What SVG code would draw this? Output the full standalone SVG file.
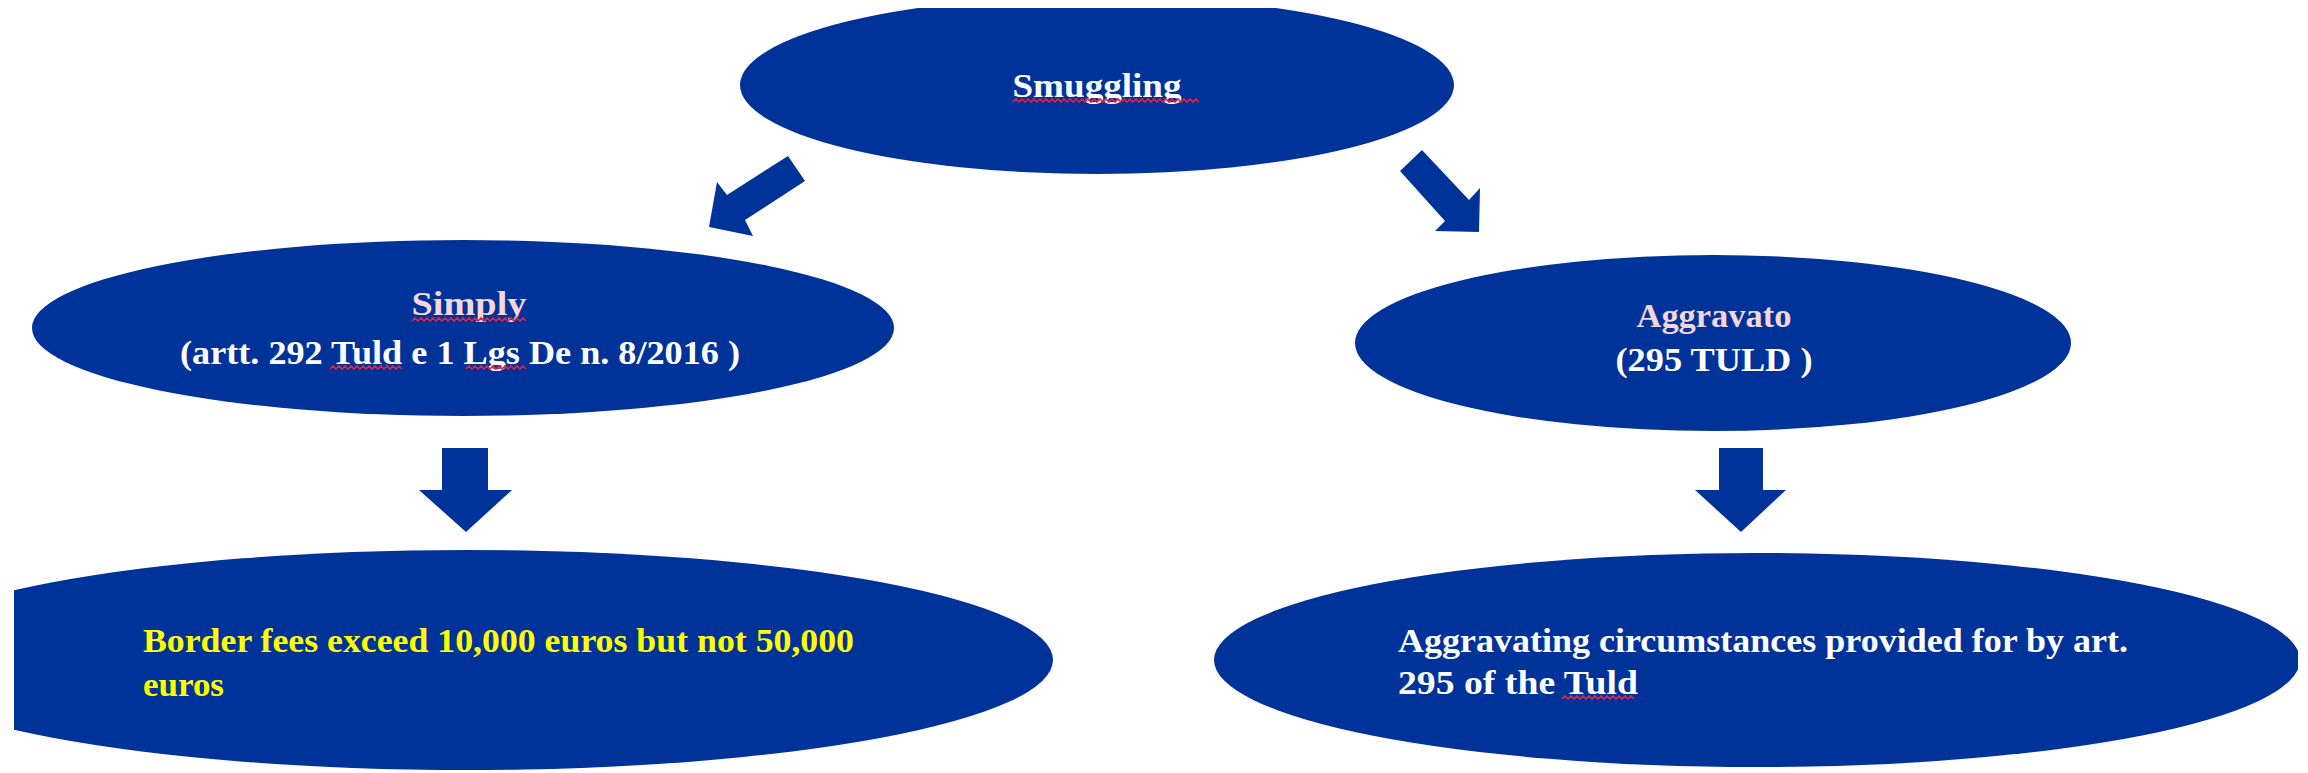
<svg xmlns="http://www.w3.org/2000/svg" width="2308" height="773" viewBox="0 0 2308 773">
  <style>
    .node { fill: #003399; }
    .arrow { fill: #003399; }
    .t { font-family: "Liberation Serif", "DejaVu Serif", serif; font-weight: bold; font-size: 34px; }
    .w { fill: #ffffff; }
    .p { fill: #f4d6dc; }
    .y { fill: #ffff00; }
    .sq { fill: none; stroke: #e8203c; stroke-width: 1.6; }
  </style>
  <defs>
    <clipPath id="clipTop"><rect x="0" y="8" width="2308" height="765"/></clipPath>
    <clipPath id="clipBL"><rect x="14" y="0" width="2294" height="773"/></clipPath>
    <clipPath id="clipBR"><rect x="0" y="0" width="2298" height="773"/></clipPath>
  </defs>
  <rect x="0" y="0" width="2308" height="773" fill="#ffffff"/>

  <g id="node-smuggling">
    <ellipse class="node" cx="1097" cy="85" rx="357" ry="89" clip-path="url(#clipTop)"/>
    <text class="t w" x="1097" y="97" text-anchor="middle" textLength="169" lengthAdjust="spacingAndGlyphs">Smuggling</text>
    <path class="sq" d="M1013 102 l3 -3 l3 3 l3 -3 l3 3 l3 -3 l3 3 l3 -3 l3 3 l3 -3 l3 3 l3 -3 l3 3 l3 -3 l3 3 l3 -3 l3 3 l3 -3 l3 3 l3 -3 l3 3 l3 -3 l3 3 l3 -3 l3 3 l3 -3 l3 3 l3 -3 l3 3 l3 -3 l3 3 l3 -3 l3 3 l3 -3 l3 3 l3 -3 l3 3 l3 -3 l3 3 l3 -3 l3 3 l3 -3 l3 3 l3 -3 l3 3 l3 -3 l3 3 l3 -3 l3 3 l3 -3 l3 3 l3 -3 l3 3 l3 -3 l3 3 l3 -3 l3 3 l3 -3 l3 3 l3 -3 l3 3 l3 -3 l3 3"/>
  </g>

  <g id="node-simply">
    <ellipse class="node" cx="463" cy="328" rx="431" ry="88"/>
    <text class="t p" x="469" y="315" text-anchor="middle" textLength="115" lengthAdjust="spacingAndGlyphs">Simply</text>
    <path class="sq" d="M412 321 l3 -3 l3 3 l3 -3 l3 3 l3 -3 l3 3 l3 -3 l3 3 l3 -3 l3 3 l3 -3 l3 3 l3 -3 l3 3 l3 -3 l3 3 l3 -3 l3 3 l3 -3 l3 3 l3 -3 l3 3 l3 -3 l3 3 l3 -3 l3 3 l3 -3 l3 3 l3 -3 l3 3 l3 -3 l3 3 l3 -3 l3 3 l3 -3 l3 3 l3 -3 l3 3"/>
    <text class="t w" x="180" y="364" textLength="560" lengthAdjust="spacingAndGlyphs">(artt. 292 Tuld e 1 Lgs De n. 8/2016 )</text>
    <path class="sq" d="M330 369 l3 -3 l3 3 l3 -3 l3 3 l3 -3 l3 3 l3 -3 l3 3 l3 -3 l3 3 l3 -3 l3 3 l3 -3 l3 3 l3 -3 l3 3 l3 -3 l3 3 l3 -3 l3 3 l3 -3 l3 3 l3 -3 l3 3"/>
    <path class="sq" d="M466 369 l3 -3 l3 3 l3 -3 l3 3 l3 -3 l3 3 l3 -3 l3 3 l3 -3 l3 3 l3 -3 l3 3 l3 -3 l3 3 l3 -3 l3 3 l3 -3 l3 3 l3 -3 l3 3"/>
  </g>

  <g id="node-aggravato">
    <ellipse class="node" cx="1713" cy="343" rx="358" ry="88"/>
    <text class="t p" x="1714" y="327" text-anchor="middle" textLength="155" lengthAdjust="spacingAndGlyphs">Aggravato</text>
    <text class="t w" x="1714" y="371" text-anchor="middle" textLength="197" lengthAdjust="spacingAndGlyphs">(295 TULD )</text>
  </g>

  <g id="node-border-fees">
    <ellipse class="node" cx="467" cy="660" rx="586" ry="110" clip-path="url(#clipBL)"/>
    <text class="t y" x="143" y="652" textLength="711" lengthAdjust="spacingAndGlyphs">Border fees exceed 10,000 euros but not 50,000</text>
    <text class="t y" x="143" y="696" textLength="81" lengthAdjust="spacingAndGlyphs">euros</text>
  </g>

  <g id="node-aggravating">
    <ellipse class="node" cx="1757" cy="660" rx="543" ry="107" clip-path="url(#clipBR)"/>
    <text class="t w" x="1398" y="652" textLength="730" lengthAdjust="spacingAndGlyphs">Aggravating circumstances provided for by art.</text>
    <text class="t w" x="1398" y="694" textLength="240" lengthAdjust="spacingAndGlyphs">295 of the Tuld</text>
    <path class="sq" d="M1562 699 l3 -3 l3 3 l3 -3 l3 3 l3 -3 l3 3 l3 -3 l3 3 l3 -3 l3 3 l3 -3 l3 3 l3 -3 l3 3 l3 -3 l3 3 l3 -3 l3 3 l3 -3 l3 3 l3 -3 l3 3 l3 -3 l3 3"/>
  </g>

  <g id="connectors">
    <polygon class="arrow" points="788,156 805,181 745,220 753,236 709,227 717,182 727,195"/>
    <polygon class="arrow" points="1422,150 1469,200 1480,188 1479,232 1435,231 1445,221 1400,171"/>
    <polygon class="arrow" points="442,448 488,448 488,490 512,490 466,532 419,490 442,490"/>
    <polygon class="arrow" points="1719,448 1763,448 1763,490 1786,490 1741,532 1695,490 1719,490"/>
  </g>
</svg>
